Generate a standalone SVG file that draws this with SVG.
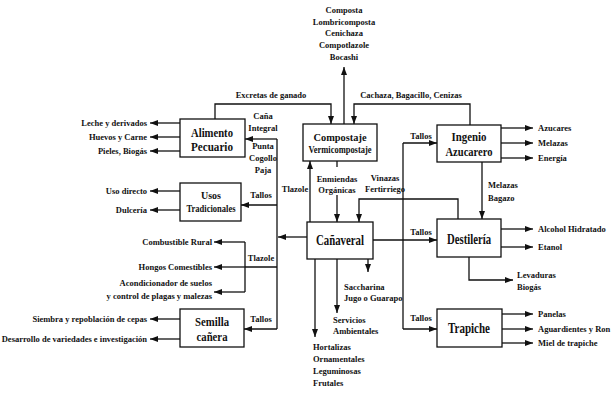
<svg xmlns="http://www.w3.org/2000/svg" width="614" height="402" viewBox="0 0 614 402">
<defs>
<marker id="a" markerWidth="8" markerHeight="6" refX="8" refY="3" orient="auto" markerUnits="userSpaceOnUse"><path d="M0,0 L8,3 L0,6 z" fill="#111"/></marker>
<style>
text{font-family:"Liberation Serif","Times New Roman",serif;font-weight:bold;fill:#111}
.s{font-size:8.5px}
.m{font-size:10px}
.b{font-size:14px}
.c{text-anchor:middle}
.e{text-anchor:end}
rect{fill:#fff;stroke:#111;stroke-width:1.3}
#conn path{fill:none;stroke:#111;stroke-width:1.3}
.ar{marker-end:url(#a)}
</style>
</defs>
<rect x="0" y="0" width="614" height="402" style="fill:#fff;stroke:none"/>
<g id="conn">
<path d="M277,139 V329"/>
<path class="ar" d="M277,139 H245"/>
<path class="ar" d="M277,205 H241"/>
<path class="ar" d="M277,329 H244"/>
<path class="ar" d="M307,237 H278"/>
<path d="M277,267 H245 M245,242 V292"/>
<path class="ar" d="M245,242 H214"/>
<path class="ar" d="M245,267 H214"/>
<path class="ar" d="M245,292 H214"/>
<path class="ar" d="M180,123 H150"/>
<path class="ar" d="M180,137 H150"/>
<path class="ar" d="M180,151 H150"/>
<path class="ar" d="M180,191 H150"/>
<path class="ar" d="M180,210 H150"/>
<path class="ar" d="M180,319 H150"/>
<path class="ar" d="M180,339 H150"/>
<path class="ar" d="M215,119 V104 H331 V124"/>
<path class="ar" d="M344,124 V67"/>
<path class="ar" d="M470,125 V104 H354 V124"/>
<path d="M337,161 V167"/>
<path class="ar" d="M337,195 V222"/>
<path class="ar" d="M310,222 V161"/>
<path class="ar" d="M458,219 V199 H359 V222"/>
<path d="M403,143 V329"/>
<path class="ar" d="M403,143 H437"/>
<path class="ar" d="M403,329 H437"/>
<path class="ar" d="M373,240 H437"/>
<path class="ar" d="M482,162 V219"/>
<path class="ar" d="M501,128 H533"/>
<path class="ar" d="M501,143 H533"/>
<path class="ar" d="M501,158 H533"/>
<path class="ar" d="M501,229 H533"/>
<path class="ar" d="M501,247 H533"/>
<path class="ar" d="M469,257 V280 H513"/>
<path class="ar" d="M502,314 H533"/>
<path class="ar" d="M502,329 H533"/>
<path class="ar" d="M502,343 H533"/>
<path class="ar" d="M315,259 V337"/>
<path class="ar" d="M337,259 V313"/>
<path class="ar" d="M368,259 V272"/>
</g>
<g id="alimento">
<rect x="180" y="119" width="65" height="38"/>
<text class="c" x="212" y="137" font-size="13" textLength="42" lengthAdjust="spacingAndGlyphs">Alimento</text>
<text class="c" x="212" y="151" font-size="13" textLength="42" lengthAdjust="spacingAndGlyphs">Pecuario</text>
</g>
<g id="compostaje">
<rect x="303" y="124" width="74" height="37"/>
<text class="c m" x="340" y="141" textLength="53" lengthAdjust="spacingAndGlyphs">Compostaje</text>
<text class="c m" x="340" y="153" textLength="63" lengthAdjust="spacingAndGlyphs">Vermicompostaje</text>
</g>
<g id="ingenio">
<rect x="437" y="125" width="64" height="37"/>
<text class="c" x="469" y="141" font-size="13.5" textLength="35" lengthAdjust="spacingAndGlyphs">Ingenio</text>
<text class="c" x="469" y="156" font-size="13.5" textLength="47" lengthAdjust="spacingAndGlyphs">Azucarero</text>
</g>
<g id="usos">
<rect x="180" y="183" width="61" height="38"/>
<text class="c m" x="211" y="199" textLength="20" lengthAdjust="spacingAndGlyphs">Usos</text>
<text class="c m" x="211" y="212" textLength="49" lengthAdjust="spacingAndGlyphs">Tradicionales</text>
</g>
<g id="canaveral">
<rect x="307" y="222" width="66" height="37"/>
<text class="c b" x="340" y="245" textLength="48" lengthAdjust="spacingAndGlyphs">Cañaveral</text>
</g>
<g id="destileria">
<rect x="437" y="219" width="64" height="38"/>
<text class="c b" x="469" y="244" textLength="44" lengthAdjust="spacingAndGlyphs">Destilería</text>
</g>
<g id="trapiche">
<rect x="437" y="309" width="65" height="38"/>
<text class="c b" x="469" y="333" textLength="42" lengthAdjust="spacingAndGlyphs">Trapiche</text>
</g>
<g id="semilla">
<rect x="180" y="309" width="64" height="38"/>
<text class="c" x="212" y="326" font-size="13" textLength="34" lengthAdjust="spacingAndGlyphs">Semilla</text>
<text class="c" x="212" y="341" font-size="13" textLength="31" lengthAdjust="spacingAndGlyphs">cañera</text>
</g>
<g id="labels">
<text class="s c" x="344" y="13">Composta</text>
<text class="s c" x="344" y="25">Lombricomposta</text>
<text class="s c" x="344" y="36">Cenichaza</text>
<text class="s c" x="344" y="48">Compotlazole</text>
<text class="s c" x="344" y="60">Bocashi</text>
<text class="s c" x="271" y="98">Excretas de ganado</text>
<text class="s c" x="411" y="98">Cachaza, Bagacillo, Cenizas</text>
<text class="s c" x="263" y="119">Caña</text>
<text class="s c" x="263" y="131">Integral</text>
<text class="s c" x="263" y="149">Punta</text>
<text class="s c" x="263" y="161">Cogollo</text>
<text class="s c" x="263" y="173">Paja</text>
<text class="s c" x="261" y="198">Tallos</text>
<text class="s c" x="295" y="192">Tlazole</text>
<text class="s c" x="261" y="261">Tlazole</text>
<text class="s c" x="261" y="322">Tallos</text>
<text class="s c" x="337" y="182">Enmiendas</text>
<text class="s c" x="337" y="193">Orgánicas</text>
<text class="s c" x="385" y="181">Vinazas</text>
<text class="s c" x="385" y="192">Fertirriego</text>
<text class="s c" x="421" y="139">Tallos</text>
<text class="s c" x="421" y="235">Tallos</text>
<text class="s c" x="421" y="321">Tallos</text>
<text class="s" x="488" y="188">Melazas</text>
<text class="s" x="488" y="201">Bagazo</text>
<text class="s e" x="147" y="126">Leche y derivados</text>
<text class="s e" x="147" y="140">Huevos y Carne</text>
<text class="s e" x="147" y="154">Pieles, Biogás</text>
<text class="s e" x="147" y="194">Uso directo</text>
<text class="s e" x="147" y="213">Dulcería</text>
<text class="s e" x="212" y="245">Combustible  Rural</text>
<text class="s e" x="212" y="270">Hongos Comestibles</text>
<text class="s e" x="212" y="286">Acondicionador de suelos</text>
<text class="s e" x="212" y="299">y control de plagas y malezas</text>
<text class="s e" x="147" y="322">Siembra y repoblación de cepas</text>
<text class="s e" x="147" y="342">Desarrollo de variedades e investigación</text>
<text class="s" x="538" y="131">Azucares</text>
<text class="s" x="538" y="146">Melazas</text>
<text class="s" x="538" y="161">Energía</text>
<text class="s" x="538" y="232">Alcohol Hidratado</text>
<text class="s" x="538" y="250">Etanol</text>
<text class="s" x="517" y="278">Levaduras</text>
<text class="s" x="517" y="290">Biogás</text>
<text class="s" x="538" y="317">Panelas</text>
<text class="s" x="538" y="332">Aguardientes y Ron</text>
<text class="s" x="538" y="346">Miel de trapiche</text>
<text class="s" x="344" y="290">Saccharina</text>
<text class="s" x="344" y="301">Jugo o Guarapo</text>
<text class="s" x="333" y="323">Servicios</text>
<text class="s" x="333" y="334">Ambientales</text>
<text class="s" x="313" y="350">Hortalizas</text>
<text class="s" x="313" y="362">Ornamentales</text>
<text class="s" x="313" y="374">Leguminosas</text>
<text class="s" x="313" y="386">Frutales</text>
</g>
</svg>
